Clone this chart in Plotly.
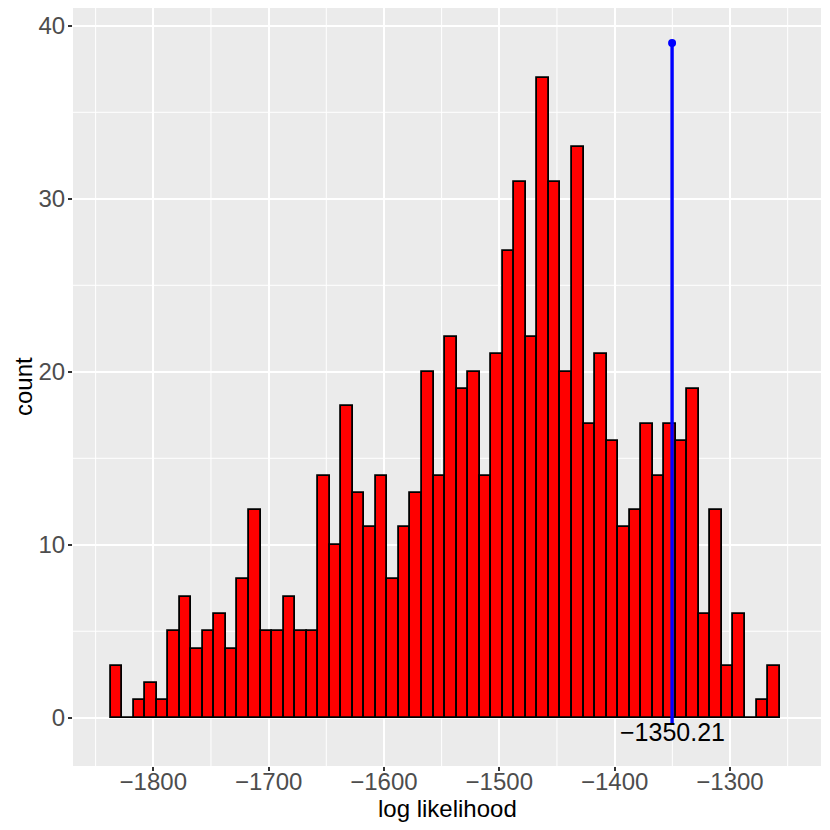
import plotly.graph_objects as go

# ---- data ----
bin_start = -1837.0
bin_width = 10.0
counts = [3, 0, 1, 2, 1, 5, 7, 4, 5, 6, 4, 8, 12, 5, 5, 7, 5, 5, 14, 10, 18,
          13, 11, 14, 8, 11, 13, 20, 14, 22, 19, 20, 14, 21, 27, 31, 22, 37, 31, 20, 33, 17,
          21, 16, 11, 12, 17, 14, 17, 16, 19, 6, 12, 3, 6, 0, 1, 3]
observed_value = -1350.21
observed_label = "\u22121350.21"
segment_y = [-0.4, 39]
label_y = -0.8
x_tick_vals = [-1800, -1700, -1600, -1500, -1400, -1300]
x_tick_text = ["\u22121800", "\u22121700", "\u22121600", "\u22121500", "\u22121400", "\u22121300"]
y_tick_vals = [0, 10, 20, 30, 40]
y_tick_text = ["0", "10", "20", "30", "40"]
x_minor = [-1850, -1750, -1650, -1550, -1450, -1350, -1250]
y_minor = [5, 15, 25, 35]
x_title = "log likelihood"
y_title = "count"

centers = [bin_start + bin_width * (i + 0.5) for i in range(len(counts))]

FONT = "Liberation Sans, Arial, Helvetica, sans-serif"

fig = go.Figure()
fig.add_trace(go.Bar(
    x=centers, y=counts, width=bin_width,
    marker=dict(color="#FF0000", line=dict(color="#000000", width=1.8)),
    hoverinfo="x+y", showlegend=False,
))
fig.add_trace(go.Scatter(
    x=[observed_value, observed_value], y=segment_y, mode="lines",
    line=dict(color="#0000FF", width=3.4), showlegend=False,
))
fig.add_trace(go.Scatter(
    x=[observed_value], y=[segment_y[1]], mode="markers",
    marker=dict(color="#0000FF", size=8), showlegend=False,
))
fig.add_annotation(
    x=observed_value, y=label_y, text=observed_label, showarrow=False,
    xanchor="center", yanchor="middle",
    font=dict(family=FONT, size=25, color="#000000"),
)
fig.add_annotation(
    xref="paper", yref="paper", x=0.5, y=0, yshift=-42, text=x_title,
    showarrow=False, xanchor="center", yanchor="middle",
    font=dict(family=FONT, size=24, color="#000000"),
)
fig.add_annotation(
    xref="paper", yref="paper", x=0, y=0.5, xshift=-50, text=y_title,
    showarrow=False, xanchor="center", yanchor="middle", textangle=-90,
    font=dict(family=FONT, size=24, color="#000000"),
)

shapes = []
for v in x_minor:
    shapes.append(dict(type="line", xref="x", yref="paper", x0=v, x1=v, y0=0, y1=1,
                       line=dict(color="#FFFFFF", width=1), layer="below"))
for v in y_minor:
    shapes.append(dict(type="line", xref="paper", yref="y", x0=0, x1=1, y0=v, y1=v,
                       line=dict(color="#FFFFFF", width=1), layer="below"))

# the page body has an 8px margin, so the figure is drawn 8px right/down of the window origin
fig.update_layout(
    width=830, height=830,
    margin=dict(l=65, r=17, t=0, b=72, autoexpand=False),
    paper_bgcolor="#FFFFFF", plot_bgcolor="#EBEBEB",
    bargap=0,
    shapes=shapes,
    font=dict(family=FONT, size=24, color="#000000"),
    xaxis=dict(
        range=[-1869.6, -1221.1], tickvals=x_tick_vals, ticktext=x_tick_text,
        showgrid=True, gridcolor="#FFFFFF", gridwidth=2, zeroline=False,
        ticks="outside", ticklen=4, tickwidth=1.5, tickcolor="#333333",
        tickfont=dict(family=FONT, size=24, color="#4D4D4D"),
        ticklabelstandoff=-10,
        automargin=False, showline=False,
    ),
    yaxis=dict(
        range=[-2.79, 41.03], tickvals=y_tick_vals, ticktext=y_tick_text,
        showgrid=True, gridcolor="#FFFFFF", gridwidth=2, zeroline=False,
        ticks="outside", ticklen=4, tickwidth=1.5, tickcolor="#333333",
        tickfont=dict(family=FONT, size=24, color="#4D4D4D"),
        ticklabelstandoff=-2,
        automargin=False, showline=False,
    ),
)

fig.write_html("out.html")
